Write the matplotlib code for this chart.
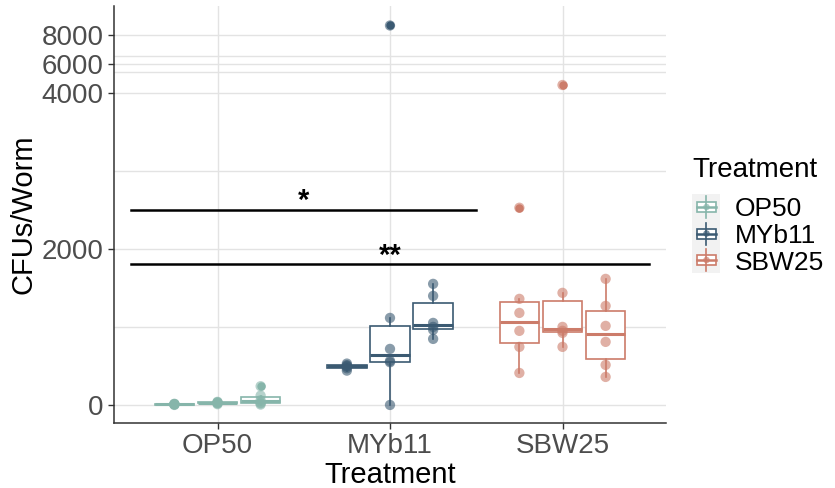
import matplotlib
matplotlib.use("Agg")
import matplotlib.pyplot as plt
import numpy as np
from matplotlib.patches import Rectangle

plt.rcParams['font.family'] = ['Liberation Sans', 'DejaVu Sans']

treatments = ["OP50", "MYb11", "SBW25"]
colors = ["#86B5AA", "#3B5A72", "#CC7C6A"]

# three replicate runs per treatment, CFUs per worm
op50 = [[0, 5, 8, 10, 12, 15],
        [10, 20, 25, 30, 35, 40],
        [5, 20, 30, 60, 120, 240]]
myb11 = [[440, 470, 490, 500, 510, 530],
         [0, 547, 564, 718, 1115, 8650],
         [846, 962, 1000, 1051, 1397, 1551]]
sbw25 = [[410, 744, 949, 1179, 1359, 2526],
         [744, 923, 950, 1000, 1436, 4530],
         [359, 513, 808, 1013, 1269, 1615]]
groups = [op50, myb11, sbw25]

# significance brackets: (x start, x end, height, label)
brackets = [(0.5, 2.5, 2500, "*"), (0.5, 3.5, 1800, "**")]

major_ticks = [0, 2000, 4000, 6000, 8000]
minor_ticks = [1000, 3000, 5450, 6550]

# squash everything above 4000
k = 0.185
def fwd(v):
    v = np.asarray(v, dtype=float)
    return np.where(v <= 4000, v, 4000 + (v - 4000) * k)

def inv(t):
    t = np.asarray(t, dtype=float)
    return np.where(t <= 4000, t, 4000 + (t - 4000) / k)

fig = plt.figure(figsize=(8.35, 4.88), dpi=100)
ax = fig.add_axes([114 / 835, 65 / 488, 552 / 835, 417 / 488])
ax.set_yscale('function', functions=(fwd, inv))

offsets = [-0.25, 0, 0.25]
for i, (grp, col) in enumerate(zip(groups, colors)):
    pos = [i + 1 + o for o in offsets]
    ax.boxplot(grp, positions=pos, widths=0.23, patch_artist=True, manage_ticks=False,
               boxprops=dict(facecolor="white", edgecolor=col, linewidth=1.2),
               whiskerprops=dict(color=col, linewidth=1.2),
               capprops=dict(linewidth=0),
               medianprops=dict(color=col, linewidth=2.2),
               flierprops=dict(marker='o', markersize=5, markerfacecolor=col,
                               markeredgecolor=col), zorder=2)
    for p, vals in zip(pos, grp):
        ax.scatter([p] * len(vals), vals, s=55, color=col, alpha=0.6,
                   edgecolors='none', zorder=3)

for x0, x1, y, lab in brackets:
    ax.plot([x0, x1], [y, y], color='black', lw=1.8, zorder=4)
    ax.text((x0 + x1) / 2, y - 70, lab, ha='center', va='bottom',
            fontsize=21, fontweight='bold', zorder=4)

ax.set_xlim(0.4, 3.6)
ax.set_ylim(-231, 10000)
ax.set_xticks([1, 2, 3])
ax.set_xticklabels(treatments)
ax.set_yticks(major_ticks)
ax.set_yticks(minor_ticks, minor=True)
ax.tick_params(axis='both', which='major', labelsize=20, labelcolor='#4D4D4D',
               color='#333333', length=4, width=1)
ax.tick_params(axis='y', which='minor', length=0)
ax.grid(True, which='both', axis='y', color='#E3E3E3', lw=1, zorder=0)
ax.grid(True, which='major', axis='x', color='#E3E3E3', lw=1, zorder=0)
ax.set_axisbelow(True)
for s in ['top', 'right']:
    ax.spines[s].set_visible(False)
for s in ['left', 'bottom']:
    ax.spines[s].set_color('#333333')
    ax.spines[s].set_linewidth(1.1)
ax.set_xlabel("Treatment", fontsize=21, labelpad=1)
ax.set_ylabel("CFUs/Worm", fontsize=21, labelpad=3)

# legend drawn by hand in pixel coordinates
lg = fig.add_axes([0, 0, 1, 1])
lg.set_xlim(0, 835)
lg.set_ylim(488, 0)
lg.axis('off')
lg.text(692, 170, "Treatment", fontsize=20, va='center', ha='left')
key_y = [207, 233.5, 260]
lg.add_patch(Rectangle((692, 194), 28, 79, facecolor='#F2F2F2', edgecolor='none'))
for yk, col, lab in zip(key_y, colors, treatments):
    lg.plot([706, 706], [yk - 11, yk + 11], color=col, lw=1.2)
    lg.add_patch(Rectangle((697, yk - 5), 19, 10, facecolor='white', edgecolor=col, lw=1.2))
    lg.plot([697, 716], [yk, yk], color=col, lw=1.8)
    lg.scatter([706.5], [yk], s=22, color=col, alpha=0.7, edgecolors='none')
    lg.text(735, yk + 2.5, lab, fontsize=19, va='center', ha='left')

fig.savefig("out.png", dpi=100)
